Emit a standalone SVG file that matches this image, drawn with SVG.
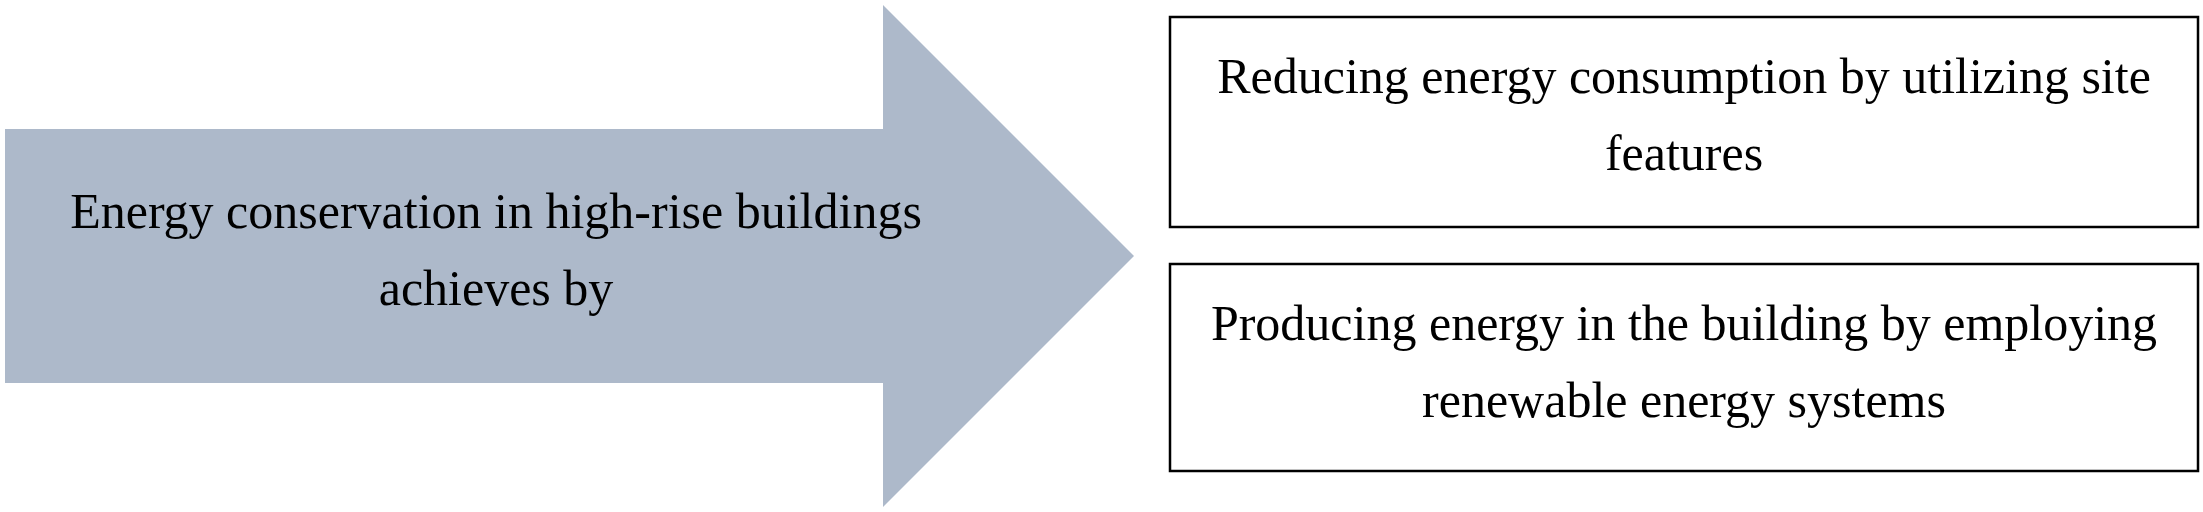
<svg xmlns="http://www.w3.org/2000/svg" width="2203" height="512" viewBox="0 0 2203 512">
  <style>
    .t { font-family: "Liberation Serif", "Times New Roman", serif; font-size: 50px; fill: #000; text-anchor: middle; }
    .box { fill: #fff; stroke: #000; stroke-width: 2.5; }
    .arrow { fill: #ADB9CA; }
  </style>
  <rect width="2203" height="512" fill="#fff"/>
  <g id="main-arrow">
    <polygon class="arrow" points="5,129 883,129 883,5 1134,256 883,507 883,383 5,383"/>
    <text class="t" x="496" y="228">Energy conservation  in high-rise buildings</text>
    <text class="t" x="496" y="305">achieves  by</text>
  </g>
  <g id="box-reducing">
    <rect class="box" x="1170" y="17" width="1028" height="210"/>
    <text class="t" x="1684" y="93">Reducing energy consumption by utilizing site</text>
    <text class="t" x="1684" y="170">features</text>
  </g>
  <g id="box-producing">
    <rect class="box" x="1170" y="264" width="1028" height="207"/>
    <text class="t" x="1684" y="340">Producing energy in the building by employing</text>
    <text class="t" x="1684" y="417">renewable energy systems</text>
  </g>
  <g id="connectors"></g>
</svg>
